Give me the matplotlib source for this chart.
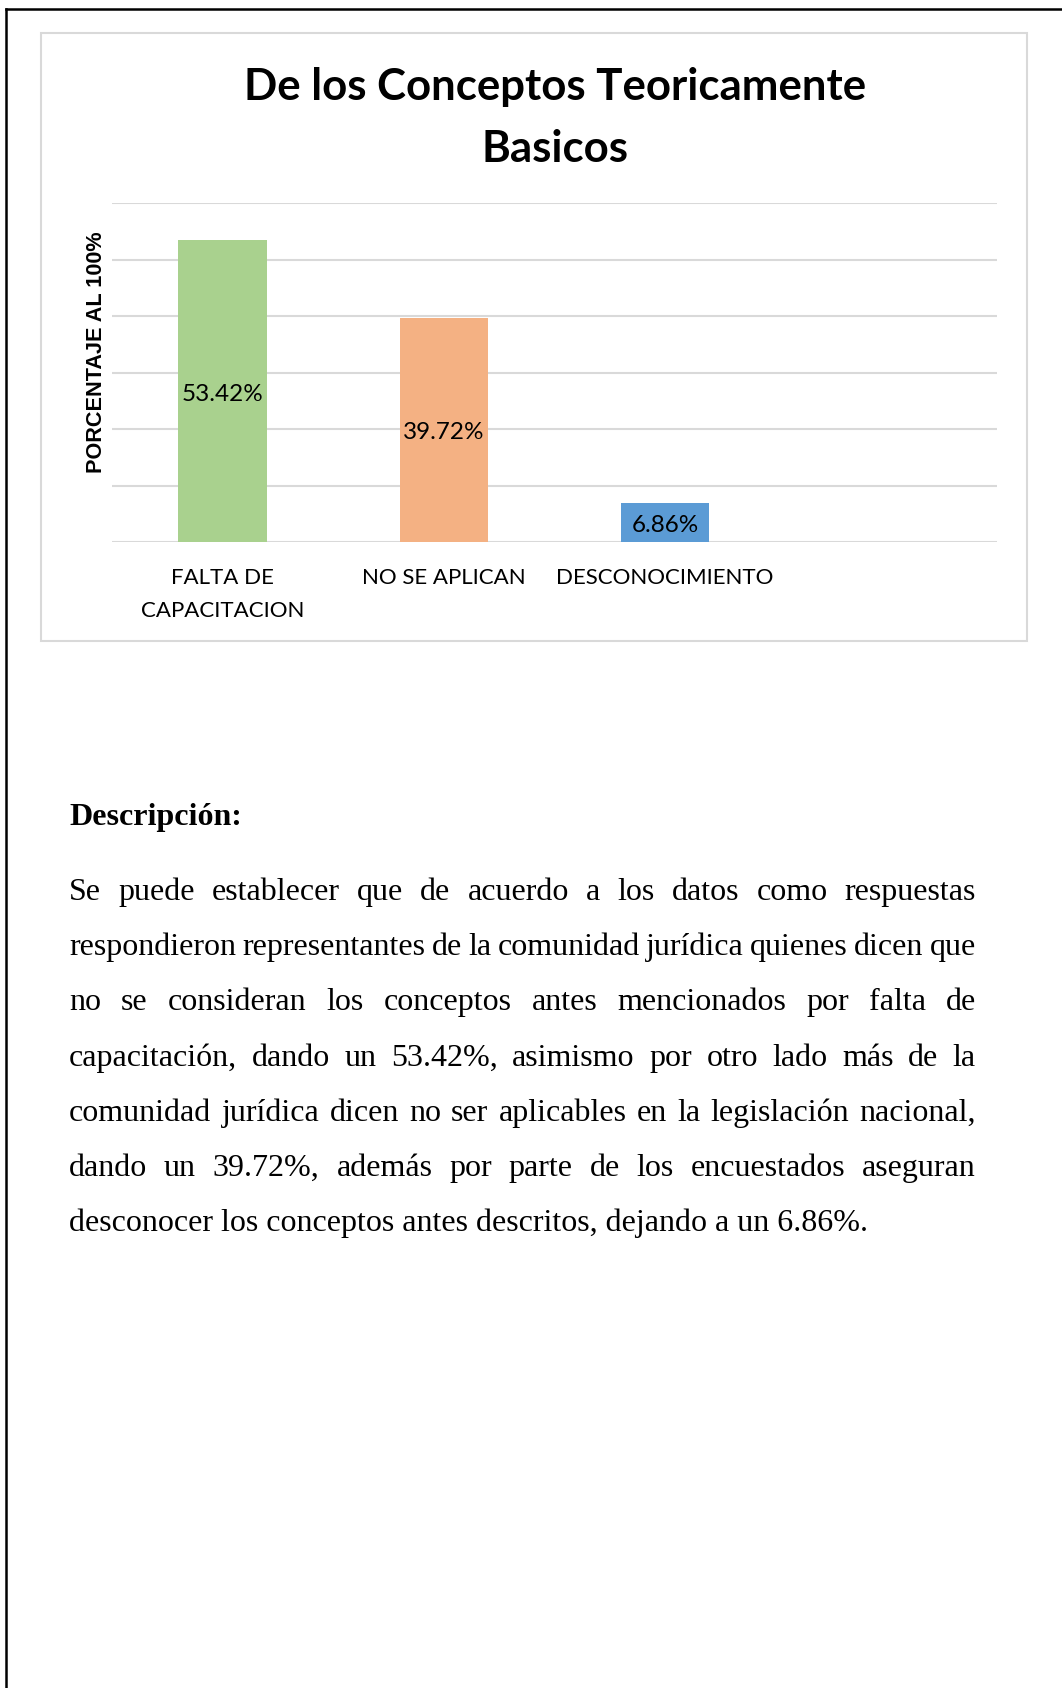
import matplotlib
matplotlib.use("Agg")
from matplotlib import pyplot as plt
from matplotlib.patches import Rectangle
from matplotlib.lines import Line2D

W, H = 1062, 1688

# chart data
categories = ["FALTA DE\nCAPACITACION", "NO SE APLICAN", "DESCONOCIMIENTO", ""]
values = [53.42, 39.72, 6.86]
bar_labels = ["53.42%", "39.72%", "6.86%"]
bar_colors = ["#a9d18e", "#f4b183", "#5b9bd5"]
y_ticks = [0, 10, 20, 30, 40, 50, 60]

title = "De los Conceptos Teoricamente\nBasicos"
y_label = "PORCENTAJE AL 100%"

heading = "Descripción:"
body_lines = [
    "Se puede establecer que de acuerdo a los datos como respuestas",
    "respondieron representantes de la comunidad jurídica quienes dicen que",
    "no se consideran los conceptos antes mencionados por falta de",
    "capacitación, dando un 53.42%, asimismo por otro lado más de la",
    "comunidad jurídica dicen no ser aplicables en la legislación nacional,",
    "dando un 39.72%, además por parte de los encuestados aseguran",
    "desconocer los conceptos antes descritos, dejando a un 6.86%.",
]


def fx(x):
    return x / W


def fy(y):
    return 1 - y / H


fig = plt.figure(figsize=(W / 100, H / 100), dpi=100)
fig.patch.set_facecolor("white")

# page frame (top + left only)
fig.add_artist(Line2D([fx(6), fx(W)], [fy(9), fy(9)], color="black", lw=1.8))
fig.add_artist(Line2D([fx(6), fx(6)], [fy(9), fy(H)], color="black", lw=1.8))

# chart frame
fig.add_artist(Rectangle((fx(41), fy(641)), fx(1027) - fx(41), fy(33) - fy(641),
                         fill=False, edgecolor="#d9d9d9", lw=1.5))

ax = fig.add_axes([fx(112), fy(542), fx(997) - fx(112), fy(203) - fy(542)])
x = list(range(len(values)))
bars = ax.bar(x, values, width=0.40, color=bar_colors, zorder=3)
for b, lab in zip(bars, bar_labels):
    # labels sit slightly below the bar middle, like the original
    ax.text(b.get_x() + b.get_width() / 2, b.get_height() / 2 - 0.55, lab,
            ha="center", va="center", fontsize=17.5, family="Lato", zorder=4)

ax.set_xlim(-0.5, 3.5)
ax.set_ylim(0, 60)
ax.set_yticks(y_ticks)
ax.set_yticklabels([])
ax.yaxis.grid(True, color="#d9d9d9", lw=1.5, zorder=0)
ax.set_xticks(range(len(categories)))
ax.set_xticklabels(categories, fontsize=16, family="Lato", linespacing=1.76)
ax.tick_params(axis="both", length=0)
ax.tick_params(axis="x", pad=19)
for s in ax.spines.values():
    s.set_visible(False)
ax.set_facecolor("none")

fig.text(fx(97), fy(352), y_label, rotation=90, ha="center", va="center",
         fontsize=15.6, fontweight="bold", family="Liberation Sans")

fig.text(fx(555), fy(118), title, ha="center", va="center", fontsize=31.5,
         fontweight="bold", family="Lato", linespacing=1.65)

# description block, justified by hand
serif = "Liberation Serif"
fs = 23
fig.text(fx(69), fy(825), heading, ha="left", va="baseline", fontsize=fs,
         fontweight="bold", family=serif)

renderer = fig.canvas.get_renderer()
left, right = 69, 976
base0, step = 900, 55.2
for i, line in enumerate(body_lines):
    yb = fy(base0 + i * step)
    if i == len(body_lines) - 1:
        fig.text(fx(left), yb, line, ha="left", va="baseline", fontsize=fs, family=serif)
        continue
    words = line.split()
    texts = [fig.text(0, yb, w, ha="left", va="baseline", fontsize=fs, family=serif)
             for w in words]
    widths = [t.get_window_extent(renderer).width for t in texts]
    gap = (right - left - sum(widths)) / (len(words) - 1)
    pos = left
    for t, w in zip(texts, widths):
        t.set_x(fx(pos))
        pos += w + gap

fig.savefig("out.png", dpi=100, facecolor="white")
